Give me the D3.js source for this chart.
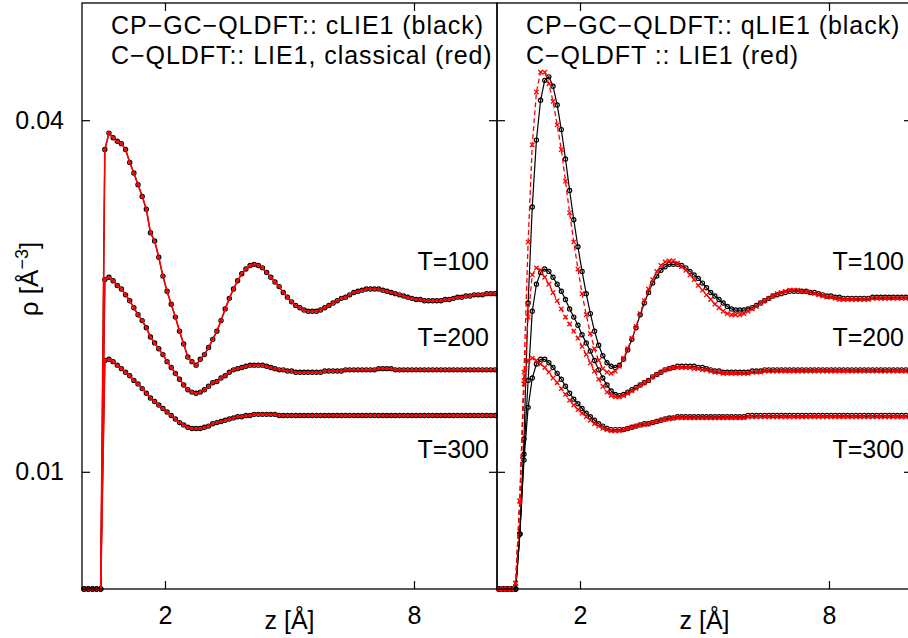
<!DOCTYPE html>
<html><head><meta charset="utf-8">
<script src="https://cdn.jsdelivr.net/npm/d3@7"></script>
<style>
body{margin:0;background:#fff}
svg{display:block}
text{font-family:"Liberation Sans",Arial,Helvetica,sans-serif;fill:#000}
</style>
</head><body>
<svg id="chart" width="908" height="638"></svg>
<script>
// sampling grid along z [Å]
const zGrid = d3.range(100).map(k => +(0.05 + 0.1 * k).toFixed(2));

// ---- left panel: CP-GC-QLDFT cLIE1 (black) and C-QLDFT LIE1 classical (red) — coincide
const leftT100 = [
0,0,0,0,0,0.0375,0.0389,0.0385,0.0382,0.0380,
0.0375,0.0364,0.0355,0.0345,0.0335,0.0324,0.0304,0.0297,0.0283,0.0267,
0.0254,0.0243,0.0232,0.0220,0.0209,0.0198,0.0194,0.0191,0.0196,0.0200,
0.0206,0.0213,0.0220,0.0229,0.0239,0.0248,0.0256,0.0263,0.0269,0.0273,
0.0276,0.0277,0.0276,0.0274,0.0270,0.0266,0.0262,0.0258,0.0253,0.0249,
0.0245,0.0242,0.0240,0.0238,0.0237,0.0237,0.0237,0.0238,0.0240,0.0242,
0.0244,0.0246,0.0248,0.0249,0.0251,0.0253,0.0254,0.0255,0.0256,0.0256,
0.0256,0.0256,0.0255,0.0254,0.0253,0.0252,0.0251,0.0250,0.0249,0.0248,
0.0247,0.0247,0.0246,0.0246,0.0246,0.0246,0.0246,0.0247,0.0247,0.0248,
0.0249,0.0249,0.0250,0.0250,0.0251,0.0251,0.0251,0.0252,0.0252,0.0252];
const leftT200 = [
0,0,0,0,0,0.0264,0.0266,0.0263,0.0259,0.0256,
0.0251,0.0246,0.0240,0.0234,0.0229,0.0223,0.0215,0.0210,0.0205,0.0200,
0.0194,0.0189,0.0184,0.0179,0.0174,0.0170,0.0168,0.0167,0.0168,0.0170,
0.0173,0.0176,0.0177,0.0180,0.0182,0.0185,0.0187,0.0188,0.0189,0.0190,
0.0191,0.0191,0.0191,0.0191,0.0190,0.0189,0.0188,0.0187,0.0187,0.0186,
0.0186,0.0185,0.0185,0.0185,0.0185,0.0185,0.0185,0.0185,0.0186,0.0186,
0.0186,0.0186,0.0186,0.0187,0.0187,0.0187,0.0187,0.0187,0.0187,0.0187,
0.0187,0.0188,0.0188,0.0188,0.0188,0.0187,0.0187,0.0187,0.0187,0.0187,
0.0187,0.0187,0.0187,0.0187,0.0187,0.0187,0.0187,0.0187,0.0187,0.0187,
0.0187,0.0187,0.0187,0.0187,0.0187,0.0187,0.0187,0.0187,0.0187,0.0187];
const leftT300 = [
0,0,0,0,0,0.0195,0.0196,0.0194,0.0191,0.0188,
0.0185,0.0182,0.0178,0.0175,0.0171,0.0167,0.0163,0.0160,0.0157,0.0154,
0.0151,0.0148,0.0145,0.0142,0.0140,0.0138,0.0137,0.0137,0.0137,0.0138,
0.0139,0.0141,0.0142,0.0143,0.0144,0.0145,0.0146,0.0147,0.0147,0.0148,
0.0148,0.0149,0.0149,0.0149,0.0149,0.0149,0.0149,0.0148,0.0148,0.0148,
0.0148,0.0148,0.0148,0.0148,0.0148,0.0148,0.0148,0.0148,0.0148,0.0148,
0.0148,0.0148,0.0148,0.0148,0.0148,0.0148,0.0148,0.0148,0.0148,0.0148,
0.0148,0.0148,0.0148,0.0148,0.0148,0.0148,0.0148,0.0148,0.0148,0.0148,
0.0148,0.0148,0.0148,0.0148,0.0148,0.0148,0.0148,0.0148,0.0148,0.0148,
0.0148,0.0148,0.0148,0.0148,0.0148,0.0148,0.0148,0.0148,0.0148,0.0148];

// ---- right panel: CP-GC-QLDFT qLIE1 (black)
const qlieT100 = [
0,0,0,0,0,0.0047,0.0128,0.0244,0.0326,0.0383,
0.0417,0.0434,0.0437,0.0429,0.0413,0.0392,0.0367,0.0340,0.0315,0.0292,
0.0271,0.0252,0.0235,0.0220,0.0208,0.0199,0.0193,0.0190,0.0189,0.0191,
0.0196,0.0204,0.0213,0.0223,0.0234,0.0244,0.0253,0.0261,0.0267,0.0272,
0.0275,0.0277,0.0277,0.0277,0.0276,0.0274,0.0271,0.0268,0.0265,0.0261,
0.0257,0.0253,0.0250,0.0247,0.0244,0.0241,0.0239,0.0238,0.0238,0.0238,
0.0239,0.0240,0.0242,0.0244,0.0246,0.0248,0.0250,0.0251,0.0252,0.0253,
0.0254,0.0254,0.0254,0.0254,0.0254,0.0253,0.0253,0.0252,0.0251,0.0250,
0.0250,0.0249,0.0249,0.0248,0.0248,0.0248,0.0248,0.0248,0.0248,0.0248,
0.0249,0.0249,0.0249,0.0249,0.0249,0.0249,0.0249,0.0249,0.0249,0.0249];
const qlieT200 = [
0,0,0,0,0,0.0047,0.0115,0.0178,0.0237,0.0260,
0.0270,0.0273,0.0271,0.0266,0.0260,0.0254,0.0247,0.0239,0.0232,0.0225,
0.0217,0.0210,0.0203,0.0195,0.0187,0.0180,0.0174,0.0169,0.0166,0.0165,
0.0166,0.0168,0.0170,0.0172,0.0174,0.0176,0.0178,0.0181,0.0183,0.0185,
0.0187,0.0188,0.0189,0.0190,0.0190,0.0190,0.0190,0.0190,0.0189,0.0189,
0.0188,0.0187,0.0186,0.0186,0.0185,0.0185,0.0185,0.0185,0.0185,0.0185,
0.0185,0.0186,0.0186,0.0186,0.0187,0.0187,0.0187,0.0187,0.0187,0.0187,
0.0187,0.0187,0.0187,0.0187,0.0187,0.0187,0.0187,0.0187,0.0187,0.0187,
0.0187,0.0187,0.0187,0.0187,0.0187,0.0187,0.0187,0.0187,0.0187,0.0187,
0.0187,0.0187,0.0187,0.0187,0.0187,0.0187,0.0187,0.0187,0.0187,0.0187];
const qlieT300 = [
0,0,0,0,0,0.0047,0.0110,0.0155,0.0180,0.0192,
0.0196,0.0196,0.0193,0.0189,0.0184,0.0179,0.0173,0.0167,0.0162,0.0158,
0.0154,0.0150,0.0147,0.0144,0.0141,0.0139,0.0137,0.0136,0.0136,0.0136,
0.0136,0.0137,0.0138,0.0139,0.0140,0.0141,0.0141,0.0142,0.0143,0.0144,
0.0145,0.0146,0.0146,0.0147,0.0147,0.0147,0.0147,0.0147,0.0147,0.0147,
0.0147,0.0147,0.0147,0.0147,0.0147,0.0147,0.0147,0.0147,0.0147,0.0147,
0.0148,0.0148,0.0148,0.0148,0.0148,0.0148,0.0148,0.0148,0.0148,0.0148,
0.0148,0.0148,0.0148,0.0148,0.0148,0.0148,0.0148,0.0148,0.0148,0.0148,
0.0148,0.0148,0.0148,0.0148,0.0148,0.0148,0.0148,0.0148,0.0148,0.0148,
0.0148,0.0148,0.0148,0.0148,0.0148,0.0148,0.0148,0.0148,0.0148,0.0148];

// ---- right panel: C-QLDFT LIE1 (red)
const lieT100 = [
0,0,0,0,0.0005,0.0075,0.0185,0.0296,0.0379,0.0424,
0.0441,0.0441,0.0431,0.0416,0.0396,0.0375,0.0348,0.0321,0.0296,0.0273,
0.0252,0.0234,0.0218,0.0205,0.0195,0.0188,0.0185,0.0184,0.0186,0.0190,
0.0197,0.0205,0.0214,0.0224,0.0235,0.0246,0.0256,0.0264,0.0271,0.0276,
0.0279,0.0280,0.0280,0.0278,0.0275,0.0272,0.0268,0.0264,0.0259,0.0255,
0.0251,0.0247,0.0243,0.0240,0.0237,0.0235,0.0234,0.0234,0.0234,0.0235,
0.0237,0.0239,0.0241,0.0244,0.0246,0.0248,0.0250,0.0252,0.0253,0.0254,
0.0255,0.0255,0.0255,0.0254,0.0254,0.0253,0.0252,0.0251,0.0250,0.0249,
0.0249,0.0248,0.0247,0.0247,0.0247,0.0247,0.0247,0.0247,0.0247,0.0247,
0.0248,0.0248,0.0248,0.0248,0.0248,0.0248,0.0248,0.0248,0.0248,0.0248];
const lieT200 = [
0,0,0,0,0.0005,0.0075,0.0175,0.0232,0.0268,0.0274,
0.0272,0.0266,0.0260,0.0253,0.0246,0.0239,0.0232,0.0226,0.0220,0.0214,
0.0207,0.0200,0.0193,0.0186,0.0179,0.0173,0.0168,0.0165,0.0164,0.0164,
0.0165,0.0167,0.0169,0.0171,0.0174,0.0176,0.0178,0.0181,0.0183,0.0185,
0.0187,0.0188,0.0189,0.0189,0.0189,0.0189,0.0189,0.0188,0.0188,0.0187,
0.0187,0.0186,0.0185,0.0185,0.0184,0.0184,0.0184,0.0184,0.0184,0.0184,
0.0184,0.0185,0.0185,0.0185,0.0186,0.0186,0.0186,0.0186,0.0186,0.0186,
0.0186,0.0186,0.0186,0.0186,0.0186,0.0186,0.0186,0.0186,0.0186,0.0186,
0.0186,0.0186,0.0186,0.0186,0.0186,0.0186,0.0186,0.0186,0.0186,0.0186,
0.0186,0.0186,0.0186,0.0186,0.0186,0.0186,0.0186,0.0186,0.0186,0.0186];
const lieT300 = [
0,0,0,0,0.0005,0.0075,0.0178,0.0195,0.0197,0.0195,
0.0192,0.0189,0.0185,0.0180,0.0176,0.0171,0.0166,0.0161,0.0157,0.0153,
0.0150,0.0147,0.0144,0.0141,0.0139,0.0137,0.0136,0.0135,0.0135,0.0135,
0.0136,0.0137,0.0138,0.0139,0.0140,0.0140,0.0141,0.0142,0.0143,0.0144,
0.0145,0.0145,0.0146,0.0146,0.0146,0.0146,0.0146,0.0146,0.0146,0.0146,
0.0146,0.0146,0.0146,0.0146,0.0146,0.0146,0.0146,0.0146,0.0146,0.0146,
0.0147,0.0147,0.0147,0.0147,0.0147,0.0147,0.0147,0.0147,0.0147,0.0147,
0.0147,0.0147,0.0147,0.0147,0.0147,0.0147,0.0147,0.0147,0.0147,0.0147,
0.0147,0.0147,0.0147,0.0147,0.0147,0.0147,0.0147,0.0147,0.0147,0.0147,
0.0147,0.0147,0.0147,0.0147,0.0147,0.0147,0.0147,0.0147,0.0147,0.0147];

const xTicks = [2, 8];
const yTicks = [0.01, 0.04];
const tempLabels = ["T=100", "T=200", "T=300"];
const leftLegend = ["CP\u2212GC\u2212QLDFT:: cLIE1 (black)", "C\u2212QLDFT:: LIE1, classical (red)"];
const rightLegend = ["CP\u2212GC\u2212QLDFT:: qLIE1 (black)", "C\u2212QLDFT :: LIE1 (red)"];

const svg = d3.select("#chart");
const plotTop = 3, plotBottom = 589;
const tempLabelY = [270, 346, 458];
const y = d3.scaleLinear().domain([0, 0.05]).range([plotBottom, plotTop]);
const xL = d3.scaleLinear().domain([0, 10]).range([82, 497]);
const xR = d3.scaleLinear().domain([0, 10]).range([497, 912]);
const FS = 25;

function panel(x, blackSets, redSets, redStyle, legend, showYLabels) {
  const g = svg.append("g");
  const [x0, x1] = x.range();
  g.append("g").attr("transform", `translate(0,${plotBottom})`)
    .call(d3.axisBottom(x).tickValues(xTicks).tickSize(-8).tickPadding(17).tickFormat(d3.format("d")));
  g.append("g").attr("transform", `translate(0,${plotTop})`)
    .call(d3.axisTop(x).tickValues(xTicks).tickSize(-8).tickFormat(""));
  g.append("g").attr("transform", `translate(${x0},0)`)
    .call(d3.axisLeft(y).tickValues(yTicks).tickSize(-8).tickPadding(18).tickFormat(showYLabels ? d3.format(".2f") : ""));
  g.append("g").attr("transform", `translate(${x1},0)`)
    .call(d3.axisRight(y).tickValues(yTicks).tickSize(-8).tickFormat(""));
  g.selectAll(".domain").remove();
  g.selectAll(".tick line").attr("stroke", "#000").attr("stroke-width", 1.2);
  g.selectAll(".tick text").attr("font-size", FS).attr("font-family", '"Liberation Sans",Arial,sans-serif').attr("fill", "#000");

  const line = d3.line().x((d, i) => x(zGrid[i])).y(d => y(d));
  blackSets.forEach(vals => {
    g.append("path").datum(vals).attr("d", line).attr("fill", "none").attr("stroke", "#000").attr("stroke-width", 1.2);
    g.append("g").selectAll("circle").data(vals).join("circle")
      .attr("cx", (d, i) => x(zGrid[i])).attr("cy", d => y(d)).attr("r", 2.1)
      .attr("fill", "none").attr("stroke", "#000").attr("stroke-width", 1.2);
  });
  redSets.forEach(vals => {
    const p = g.append("path").datum(vals).attr("d", line).attr("fill", "none").attr("stroke", "#ff0000")
      .attr("stroke-width", redStyle === "solid" ? 1.6 : 1.3);
    if (redStyle !== "solid") p.attr("stroke-dasharray", "5,3");
    if (redStyle === "solid") {
      g.append("g").selectAll("circle").data(vals).join("circle")
        .attr("cx", (d, i) => x(zGrid[i])).attr("cy", d => y(d)).attr("r", 1.5)
        .attr("fill", "#ff0000");
    } else {
      g.append("g").selectAll("path").data(vals).join("path")
        .attr("transform", (d, i) => `translate(${x(zGrid[i])},${y(d)})`)
        .attr("d", "M-2.2,-2.2L2.2,2.2M-2.2,2.2L2.2,-2.2")
        .attr("stroke", "#ff0000").attr("stroke-width", 1.3).attr("fill", "none");
    }
  });
  g.append("rect").attr("x", x0).attr("y", plotTop).attr("width", x1 - x0).attr("height", plotBottom - plotTop)
    .attr("fill", "none").attr("stroke", "#000").attr("stroke-width", 1.3);
  legend.forEach((t, i) => {
    g.append("text").attr("x", x0 + 29).attr("y", 34 + i * 30).attr("font-size", FS)
      .attr("letter-spacing", 0.95).text(t);
  });
  tempLabels.forEach((t, i) => {
    g.append("text").attr("x", x0 + 407).attr("y", tempLabelY[i]).attr("text-anchor", "end")
      .attr("font-size", FS).text(t);
  });
  g.append("text").attr("x", (x0 + x1) / 2).attr("y", 629).attr("text-anchor", "middle")
    .attr("font-size", FS).text("z [Å]");
}

panel(xL, [leftT100, leftT200, leftT300], [leftT100, leftT200, leftT300], "solid", leftLegend, true);
panel(xR, [qlieT100, qlieT200, qlieT300], [lieT100, lieT200, lieT300], "dashed", rightLegend, false);

const yl = svg.append("text").attr("transform", "translate(38,279) rotate(-90)")
  .attr("text-anchor", "middle").attr("font-size", 26);
yl.append("tspan").text("ρ [Å");
yl.append("tspan").attr("font-size", 18).attr("dy", -10).text("−3");
yl.append("tspan").attr("dy", 10).text("]");
</script>
</body></html>
